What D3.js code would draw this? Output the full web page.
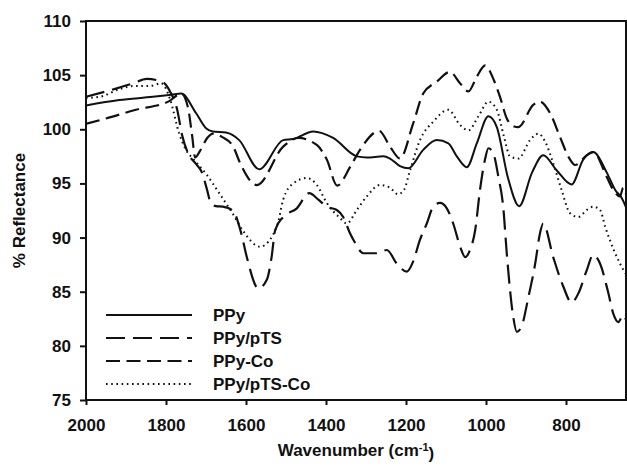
<!DOCTYPE html>
<html>
<head>
<meta charset="utf-8">
<script src="https://cdn.jsdelivr.net/npm/d3@7"></script>
<style>
  body { margin: 0; background: #fff; }
  text { font-family: "Liberation Sans", Arial, sans-serif; font-weight: bold; }
</style>
</head>
<body>
<svg id="chart"></svg>
<script>
// series names as shown in the legend
var seriesNames = ["PPy", "PPy/pTS", "PPy-Co", "PPy/pTS-Co"];

// [wavenumber, % reflectance]
var ppy = [[2000,102.2],[1917,102.7],[1833,103.0],[1787,103.2],[1762,103.3],[1725,101.5],[1700,100.1],
  [1683,99.8],[1650,99.7],[1617,99.0],[1567,96.3],[1507,99.0],[1482,99.1],[1432,99.8],[1382,99.2],
  [1323,97.5],[1298,97.4],[1257,97.5],[1240,97.3],[1215,96.6],[1194,96.4],[1157,98.1],[1123,99.0],
  [1094,98.7],[1073,97.5],[1048,96.5],[1023,98.7],[994,101.2],[973,100.2],[945,95.5],[917,92.9],
  [885,96.0],[857,97.6],[823,96.2],[786,94.9],[757,97.2],[732,97.9],[698,96.0],[677,94.4],[660,93.6],[650,92.8]];

var ppyPts = [[2000,103.0],[1940,103.6],[1882,104.25],[1848,104.65],[1810,104.4],[1790,103.5],[1772,101.8],
  [1760,99.5],[1745,97.8],[1725,96.8],[1710,96.0],[1698,94.5],[1688,93.2],[1675,92.9],[1658,92.85],
  [1633,92.5],[1612,90.4],[1598,88.2],[1569,85.3],[1548,86.1],[1536,88.2],[1527,90.7],[1507,91.9],
  [1473,92.7],[1442,94.1],[1419,93.5],[1398,92.85],[1373,92.55],[1357,91.9],[1340,90.4],[1327,89.5],
  [1307,88.55],[1273,88.55],[1248,88.85],[1223,87.6],[1198,86.85],[1182,87.8],[1165,89.8],[1148,91.3],
  [1132,92.85],[1115,93.2],[1098,92.7],[1082,91.3],[1065,89.2],[1052,88.2],[1040,88.85],[1027,90.7],
  [1015,94.4],[1002,97.3],[994,98.25],[982,97.8],[969,95.6],[957,92.85],[948,88.5],[932,82.7],
  [923,81.3],[911,81.8],[894,84.5],[877,87.6],[865,90.4],[857,91.3],[832,88.2],[807,85.5],[786,84.0],
  [769,84.85],[748,87.0],[732,88.4],[715,87.6],[694,84.85],[682,83.0],[669,82.2],[657,82.85],[650,82.4]];

var ppyCo = [[2000,100.5],[1950,101.0],[1875,101.8],[1792,102.6],[1762,103.3],[1745,102.0],[1735,99.5],
  [1727,97.4],[1715,98.0],[1697,99.2],[1682,99.6],[1660,99.3],[1632,98.4],[1615,96.9],[1573,94.85],
  [1507,98.4],[1469,99.2],[1423,98.55],[1398,97.2],[1372,94.8],[1340,96.5],[1315,98.1],[1267,99.85],
  [1240,98.4],[1215,97.3],[1182,100.55],[1157,103.3],[1123,104.4],[1090,105.3],[1065,104.25],
  [1044,103.5],[1023,104.86],[1002,105.9],[980,104.5],[965,103.0],[948,101.0],[932,100.3],[919,100.2],
  [882,102.25],[865,102.55],[840,101.5],[815,99.3],[794,97.47],[777,96.7],[748,97.6],[732,97.9],
  [698,95.6],[682,94.4],[665,93.8],[657,94.6],[650,94.0]];

var ppyPtsCo = [[2000,102.9],[1965,103.0],[1917,103.7],[1880,104.0],[1840,104.0],[1812,104.25],[1790,102.8],
  [1767,99.6],[1750,98.1],[1733,97.3],[1700,95.9],[1667,94.1],[1633,92.2],[1607,90.6],[1565,89.16],
  [1523,91.0],[1507,93.5],[1482,95.0],[1448,95.5],[1423,94.86],[1398,93.2],[1365,91.8],[1348,91.3],
  [1323,92.55],[1298,93.8],[1265,94.86],[1240,94.6],[1220,94.0],[1205,94.4],[1190,96.2],[1165,99.0],
  [1132,100.7],[1094,101.8],[1065,100.4],[1044,99.9],[1019,101.2],[994,102.55],[973,101.8],[955,99.3],
  [940,97.5],[919,97.3],[890,99.0],[869,99.6],[852,98.85],[832,96.86],[811,94.4],[790,92.25],[769,91.9],
  [748,92.55],[732,92.85],[715,92.55],[702,91.0],[680,88.8],[652,86.7]];

var xTicks = [2000, 1800, 1600, 1400, 1200, 1000, 800];
var yTicks = [75, 80, 85, 90, 95, 100, 105, 110];

var width = 627, height = 472;
var margin = {top: 21, right: 1, bottom: 72, left: 86};

var svg = d3.select("#chart").attr("width", width).attr("height", height);

var x = d3.scaleLinear().domain([2000, 650]).range([margin.left, width - margin.right]);
var y = d3.scaleLinear().domain([75, 110]).range([height - margin.bottom, margin.top]);

var series = [ppy, ppyPts, ppyCo, ppyPtsCo];
var dashes = [null, "19,8", "14,6.5", "1.6,3.6"];
var widths = [2, 2.2, 2.2, 2];

var line = d3.line()
  .x(d => x(d[0]))
  .y(d => y(d[1]))
  .curve(d3.curveMonotoneX);

svg.append("g")
  .selectAll("path")
  .data(series)
  .join("path")
    .attr("d", line)
    .attr("fill", "none")
    .attr("stroke", "#111")
    .attr("stroke-width", (d, i) => widths[i])
    .attr("stroke-dasharray", (d, i) => dashes[i])
    .attr("stroke-linejoin", "round");

// axes
var xAxis = svg.append("g")
  .attr("transform", `translate(0,${height - margin.bottom})`)
  .call(d3.axisBottom(x).tickValues(xTicks).tickSize(5).tickPadding(14).tickFormat(d3.format("d")));
var yAxis = svg.append("g")
  .attr("transform", `translate(${margin.left},0)`)
  .call(d3.axisLeft(y).tickValues(yTicks).tickSize(6).tickPadding(9));

[xAxis, yAxis].forEach(function(g) {
  g.select(".domain").remove();
  g.selectAll(".tick line").attr("stroke", "#111").attr("stroke-width", 2);
  g.selectAll(".tick text").attr("fill", "#111").style("font-size", "17px");
});

// frame
svg.append("rect")
  .attr("x", margin.left)
  .attr("y", margin.top)
  .attr("width", width - margin.right - margin.left)
  .attr("height", height - margin.bottom - margin.top)
  .attr("fill", "none")
  .attr("stroke", "#111")
  .attr("stroke-width", 2);

// legend
var legend = svg.append("g");
seriesNames.forEach(function(name, i) {
  var ly = 315 + i * 23;
  legend.append("line")
    .attr("x1", 106).attr("x2", 192)
    .attr("y1", ly).attr("y2", ly)
    .attr("stroke", "#111")
    .attr("stroke-width", widths[i])
    .attr("stroke-dasharray", dashes[i]);
  legend.append("text")
    .attr("x", 213)
    .attr("y", ly)
    .attr("dy", "0.35em")
    .style("font-size", "17px")
    .attr("fill", "#111")
    .text(name);
});

// axis titles
var xt = svg.append("text")
  .attr("x", (margin.left + width - margin.right) / 2)
  .attr("y", 456)
  .attr("text-anchor", "middle")
  .style("font-size", "17px")
  .attr("fill", "#111");
xt.append("tspan").text("Wavenumber (cm");
xt.append("tspan").attr("dy", "-0.45em").style("font-size", "11px").text("-1");
xt.append("tspan").attr("dy", "0.45em").text(")");

svg.append("text")
  .attr("transform", "rotate(-90)")
  .attr("x", -(margin.top + height - margin.bottom) / 2)
  .attr("y", 25)
  .attr("text-anchor", "middle")
  .style("font-size", "17px")
  .attr("fill", "#111")
  .text("% Reflectance");
</script>
</body>
</html>
